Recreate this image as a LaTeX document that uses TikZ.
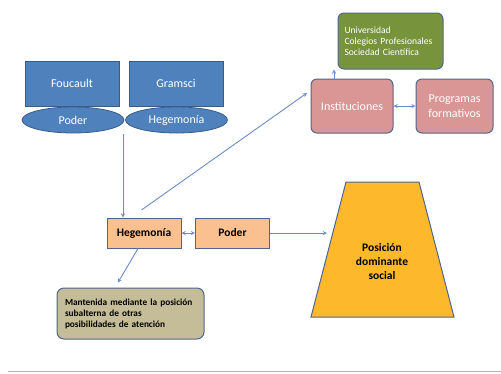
\documentclass[tikz,border=0pt]{standalone}
\usepackage{fontspec}
\setmainfont{Carlito}
\usepackage{tikz}
\usetikzlibrary{shapes.geometric,calc}

\definecolor{colBlue}{HTML}{4F81BD}
\definecolor{colBlueLine}{HTML}{385D8A}
\definecolor{colEdge}{HTML}{50658F}
\definecolor{colArrow}{HTML}{6A8CC7}
\definecolor{colOrange}{HTML}{FAC090}
\definecolor{colPink}{HTML}{D99694}
\definecolor{colGreen}{HTML}{77933C}
\definecolor{colOlive}{HTML}{C4BD97}
\definecolor{colGold}{HTML}{FDB92B}

\begin{document}
\begin{tikzpicture}[x=1pt,y=-1pt,
		author/.style={draw=colBlueLine,fill=colBlue,text=white,line width=0.8pt,minimum width=94pt,minimum height=45pt,font=\fontsize{12}{14}\selectfont},
		idea/.style={ellipse,draw=colBlueLine,fill=colBlue,text=white,line width=0.8pt,minimum width=102pt,minimum height=26pt,inner sep=0pt,font=\fontsize{12}{14}\selectfont},
		concept/.style={draw=colEdge,fill=colOrange,line width=1pt,minimum width=74pt,minimum height=30pt,font=\bfseries\fontsize{11.5}{14}\selectfont},
		place/.style={draw=colEdge,fill=colPink,text=white,rounded corners=6pt,line width=1pt,minimum width=82pt,minimum height=54pt,align=center,font=\fontsize{12}{15}\selectfont},
		link/.style={draw=colArrow,line width=0.9pt,>=stealth}]
		\useasboundingbox (0,0) rectangle (501,373);

		% autores y conceptos
		\node[author] (foucault) at (72,83.5)  {Foucault};
		\node[author] (gramsci)  at (176,83.5) {Gramsci};
		\node[idea] (poderIdea) at (73,120)    {Poder};
		\node[idea] (hegIdea)   at (176.5,120) {Hegemonía};

		\node[concept] (heg)   at (144,233)   {Hegemonía};
		\node[concept] (poder) at (232.5,233) {Poder};

		\node[draw=colEdge,fill=colOlive,rounded corners=7pt,line width=1pt,minimum width=147pt,minimum height=51pt,
			text width=131pt,align=left,font=\bfseries\fontsize{9.3}{11}\selectfont] (mant) at (130.5,313.5)
			{Mantenida mediante la posición\\subalterna de otras\\posibilidades de atención};

		% instituciones
		\node[place] (inst) at (352,106)   {Instituciones};
		\node[place,minimum width=77pt] (prog) at (454.5,106) {Programas\\formativos};
		\node[draw=colEdge,fill=colGreen,text=white,rounded corners=6pt,line width=1pt,minimum width=105pt,minimum height=56pt,
			text width=92pt,align=left,font=\fontsize{9.6}{11.3}\selectfont] (univ) at (390.5,41)
			{Universidad\\Colegios Profesionales\\Sociedad Científica};

		% posicion dominante
		\draw[draw=colEdge,fill=colGold,line width=1pt] (346,182) -- (419,182) -- (454,317) -- (311,317) -- cycle;
		\node[align=center,font=\bfseries\fontsize{11.5}{14}\selectfont] (dom) at (382,262) {Posición\\dominante\\social};

		\coordinate (split)   at (123,134);
		\coordinate (hegTop)  at (141.5,210);
		\coordinate (instTip) at (307,93);
		\coordinate (domTip)  at (327,233);

		\begin{scope}[link,->]
			\draw (split) -- (split |- heg.north);
			\draw (hegTop) -- (instTip);
			\draw ($(inst.north)+(-18,0)$) -- ($(univ.south)+(-56.5,0)$);
			\draw (poder.east) -- (domTip);
			\draw ($(heg.south)+(-6,0)$) -- ($(mant.north)+(-12.5,-5)$);
		\end{scope}
		\begin{scope}[link,<->]
			\draw (heg.east) -- (poder.west);
			\draw (inst.east) -- (prog.west);
		\end{scope}

		\draw[gray!60,line width=1.5pt] (8,371.5) -- (501,371.5);
	\end{tikzpicture}
\end{document}
